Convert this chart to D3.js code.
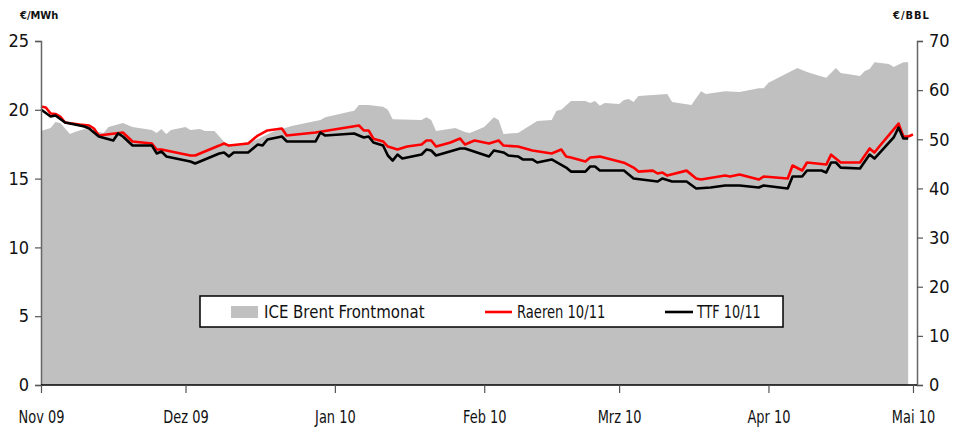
<!DOCTYPE html>
<html>
<head>
<meta charset="utf-8">
<script src="https://cdn.jsdelivr.net/npm/d3@7"></script>
<style>
body { margin: 0; background: #fff; }
text { font-family: "Liberation Sans Narrow", "DejaVu Sans Condensed", sans-serif; fill: #111; }
</style>
</head>
<body>
<svg id="chart" width="953" height="428"></svg>
<script>
// ICE Brent front month, EUR/BBL (right axis)
var brentDates = ['2009-11-01','2009-11-03','2009-11-04','2009-11-05','2009-11-07','2009-11-08','2009-11-10',
    '2009-11-14','2009-11-15','2009-11-18','2009-11-20','2009-11-24','2009-11-25','2009-11-26','2009-11-27',
    '2009-11-28','2009-12-01','2009-12-02','2009-12-04','2009-12-05','2009-12-07','2009-12-09','2009-12-10',
    '2009-12-15','2009-12-19','2009-12-21','2009-12-23','2009-12-29','2009-12-30','2010-01-04','2010-01-05',
    '2010-01-06','2010-01-08','2010-01-11','2010-01-12','2010-01-13','2010-01-19','2010-01-20','2010-01-21',
    '2010-01-22','2010-01-26','2010-01-28','2010-01-29','2010-02-01','2010-02-03','2010-02-04','2010-02-05',
    '2010-02-08','2010-02-10','2010-02-12','2010-02-15','2010-02-16','2010-02-17','2010-02-19','2010-02-22',
    '2010-02-23','2010-02-24','2010-02-25','2010-02-26','2010-03-01','2010-03-02','2010-03-03','2010-03-04',
    '2010-03-05','2010-03-11','2010-03-12','2010-03-16','2010-03-18','2010-03-19','2010-03-23','2010-03-26',
    '2010-03-30','2010-03-31','2010-04-01','2010-04-07','2010-04-09','2010-04-11','2010-04-13','2010-04-15',
    '2010-04-16','2010-04-20','2010-04-21','2010-04-22','2010-04-23','2010-04-26','2010-04-27','2010-04-29',
    '2010-04-30'];
var brentValues = [51.7,52.3,53.5,53.3,51.1,51.5,52.1,
    51.3,52.5,53.3,52.5,51.9,51.3,52.1,51.1,
    51.9,52.5,51.9,52.1,51.7,51.7,49.5,48.8,
    49.6,51.5,52.1,52.7,53.9,54.5,55.6,55.8,
    57.0,57.0,56.6,56.0,54.1,53.9,54.5,53.9,
    51.7,52.3,51.5,51.3,52.5,54.5,53.9,51.1,
    51.3,52.5,53.7,53.9,55.8,56.0,57.8,57.8,
    57.4,57.8,56.8,57.4,57.2,58.0,58.2,57.6,
    58.8,59.2,57.6,57.0,59.8,59.2,59.8,59.6,
    60.4,60.4,61.5,64.5,63.7,63.1,62.5,64.5,
    63.5,62.9,63.9,64.3,65.7,65.3,64.7,65.7,
    65.7];

// Raeren 10/11, EUR/MWh (left axis)
var raerenDates = ['2009-11-01','2009-11-02','2009-11-03','2009-11-04','2009-11-05','2009-11-06','2009-11-09',
    '2009-11-11','2009-11-12','2009-11-13','2009-11-18','2009-11-20','2009-11-24','2009-11-25','2009-11-26',
    '2009-11-27','2009-12-02','2009-12-03','2009-12-07','2009-12-08','2009-12-09','2009-12-10','2009-12-14',
    '2009-12-16','2009-12-18','2009-12-21','2009-12-22','2009-12-28','2010-01-06','2010-01-07','2010-01-08',
    '2010-01-09','2010-01-11','2010-01-12','2010-01-14','2010-01-16','2010-01-19','2010-01-20','2010-01-21',
    '2010-01-22','2010-01-25','2010-01-27','2010-01-28','2010-01-30','2010-02-02','2010-02-04','2010-02-05',
    '2010-02-08','2010-02-11','2010-02-15','2010-02-17','2010-02-18','2010-02-19','2010-02-22','2010-02-23',
    '2010-02-25','2010-03-02','2010-03-04','2010-03-05','2010-03-08','2010-03-09','2010-03-10','2010-03-11',
    '2010-03-15','2010-03-17','2010-03-18','2010-03-23','2010-03-24','2010-03-26','2010-03-30','2010-03-31',
    '2010-04-05','2010-04-06','2010-04-08','2010-04-09','2010-04-13','2010-04-14','2010-04-16','2010-04-20',
    '2010-04-22','2010-04-23','2010-04-24','2010-04-28','2010-04-29','2010-04-30','2010-05-01'];
var raerenValues = [20.24,20.17,19.73,19.70,19.51,19.08,18.93,
    18.86,18.64,18.13,18.35,17.70,17.55,17.11,17.11,
    17.04,16.68,16.68,17.26,17.40,17.55,17.40,17.55,
    18.13,18.50,18.64,18.13,18.35,18.86,18.50,18.50,
    17.90,17.70,17.33,17.11,17.33,17.48,17.77,17.77,
    17.33,17.62,17.91,17.48,17.77,17.55,17.77,17.40,
    17.33,17.04,16.82,17.11,16.60,16.53,16.24,16.53,
    16.60,16.16,15.80,15.51,15.58,15.37,15.44,15.22,
    15.58,15.01,14.93,15.22,15.15,15.30,14.93,15.15,
    15.01,15.95,15.59,16.17,16.02,16.74,16.17,16.17,
    17.19,16.90,17.33,19.00,18.06,18.06,18.20];

// TTF 10/11, EUR/MWh (left axis)
var ttfDates = ['2009-11-01','2009-11-03','2009-11-04','2009-11-06','2009-11-10','2009-11-11','2009-11-13',
    '2009-11-16','2009-11-17','2009-11-18','2009-11-20','2009-11-24','2009-11-25','2009-11-26','2009-11-27',
    '2009-12-02','2009-12-03','2009-12-07','2009-12-08','2009-12-09','2009-12-10','2009-12-11','2009-12-14',
    '2009-12-16','2009-12-17','2009-12-18','2009-12-21','2009-12-22','2009-12-28','2009-12-29','2009-12-30',
    '2010-01-05','2010-01-07','2010-01-08','2010-01-09','2010-01-11','2010-01-12','2010-01-13','2010-01-14',
    '2010-01-15','2010-01-19','2010-01-20','2010-01-21','2010-01-22','2010-01-27','2010-01-28','2010-02-02',
    '2010-02-03','2010-02-05','2010-02-06','2010-02-08','2010-02-09','2010-02-11','2010-02-12','2010-02-15',
    '2010-02-18','2010-02-19','2010-02-22','2010-02-23','2010-02-24','2010-02-25','2010-03-02','2010-03-04',
    '2010-03-09','2010-03-10','2010-03-12','2010-03-15','2010-03-17','2010-03-20','2010-03-23','2010-03-26',
    '2010-03-30','2010-03-31','2010-04-05','2010-04-06','2010-04-08','2010-04-09','2010-04-12','2010-04-13',
    '2010-04-14','2010-04-15','2010-04-16','2010-04-20','2010-04-22','2010-04-23','2010-04-27','2010-04-28',
    '2010-04-29','2010-04-30'];
var ttfValues = [20.02,19.51,19.59,19.08,18.79,18.64,18.06,
    17.77,18.28,18.06,17.41,17.41,16.83,16.97,16.61,
    16.24,16.10,16.68,16.82,16.90,16.61,16.90,16.90,
    17.48,17.41,17.84,18.06,17.70,17.70,18.35,18.13,
    18.28,17.99,18.06,17.62,17.41,16.68,16.31,16.75,
    16.46,16.75,17.11,17.04,16.68,17.19,17.19,16.61,
    17.04,16.90,16.68,16.61,16.39,16.39,16.17,16.39,
    15.80,15.51,15.51,15.88,15.88,15.59,15.59,15.01,
    14.79,15.01,14.79,14.79,14.28,14.35,14.50,14.50,
    14.35,14.50,14.28,15.15,15.15,15.59,15.59,15.44,
    16.17,16.17,15.80,15.73,16.75,16.46,17.99,18.71,
    17.91,17.91];

var monthTicks = ['2009-11-01','2009-12-01','2010-01-01','2010-02-01','2010-03-01','2010-04-01','2010-05-01'];
var monthLabels = ['Nov 09','Dez 09','Jan 10','Feb 10','Mrz 10','Apr 10','Mai 10'];
var leftTicks = [0, 5, 10, 15, 20, 25];
var rightTicks = [0, 10, 20, 30, 40, 50, 60, 70];
var legendLabels = ['ICE Brent Frontmonat', 'Raeren 10/11', 'TTF 10/11'];

var parse = d3.timeParse('%Y-%m-%d');

function zip(dates, values) {
    return dates.map(function(d, i) { return {date: parse(d), value: values[i]}; });
}

var brent = zip(brentDates, brentValues),
    raeren = zip(raerenDates, raerenValues),
    ttf = zip(ttfDates, ttfValues);

var svg = d3.select('#chart');

var box = {left: 41, right: 917, top: 41, bottom: 385};

// squeeze a text horizontally, the source font is a narrow DIN-like face
function narrow(sel, k) {
    sel.each(function() {
        var w = this.getComputedTextLength();
        d3.select(this).attr('textLength', w * k).attr('lengthAdjust', 'spacingAndGlyphs');
    });
}

// x range ends at the right axis, a little after 1 May
var x = d3.scaleTime().
    domain([parse('2009-11-01'), new Date(2010, 4, 1, 20)]).
    range([box.left, box.right]);
var yL = d3.scaleLinear().domain([0, 25]).range([box.bottom, box.top]);
var yR = d3.scaleLinear().domain([0, 70]).range([box.bottom, box.top]);

// Brent area on the right scale
var area = d3.area().
    x(function(d) { return x(d.date); }).
    y0(yR(0)).
    y1(function(d) { return yR(d.value); });

svg.append('path').datum(brent).
    attr('d', area).
    attr('fill', '#c0c0c0');

var line = d3.line().
    x(function(d) { return x(d.date); }).
    y(function(d) { return yL(d.value); });

svg.append('path').datum(raeren).
    attr('d', line).
    attr('fill', 'none').attr('stroke', '#ff0000').
    attr('stroke-width', 2.6).attr('stroke-linejoin', 'round');

svg.append('path').datum(ttf).
    attr('d', line).
    attr('fill', 'none').attr('stroke', '#000').
    attr('stroke-width', 2.6).attr('stroke-linejoin', 'round');

// Axes
var axisL = d3.axisLeft(yL).tickValues(leftTicks).tickSize(6).tickPadding(6);
var axisR = d3.axisRight(yR).tickValues(rightTicks).tickSize(6).tickPadding(6);
var axisX = d3.axisBottom(x).
    tickValues(monthTicks.map(parse)).
    tickFormat(function(d, i) { return monthLabels[i]; }).
    tickSize(8).tickPadding(17);

function styleAxis(g) {
    g.select('.domain').attr('stroke', '#666').attr('stroke-width', 1.5);
    g.selectAll('.tick line').attr('stroke', '#555').attr('stroke-width', 1.2);
    g.selectAll('.tick text').
        style('font-family', '"Liberation Sans Narrow", "DejaVu Sans Condensed", sans-serif').
        style('font-size', '18px').attr('fill', '#111');
}

svg.append('g').attr('transform', 'translate(' + box.left + ',0)').call(axisL).call(styleAxis);
svg.append('g').attr('transform', 'translate(' + box.right + ',0)').call(axisR).call(styleAxis);
var gx = svg.append('g').attr('transform', 'translate(0,' + box.bottom + ')').call(axisX).call(styleAxis);
gx.select('.domain').attr('stroke', '#000').attr('stroke-width', 1.6).
    attr('d', 'M' + box.left + ',0H' + box.right);
gx.selectAll('.tick text').call(narrow, 0.8);

// Unit labels
svg.append('text').attr('x', 20).attr('y', 19).
    style('font-family', '"DejaVu Sans Condensed", sans-serif').
    style('font-size', '11px').style('font-weight', 'bold').
    text('€/MWh');
svg.append('text').attr('x', 893).attr('y', 19).
    style('font-family', '"DejaVu Sans Condensed", sans-serif').
    style('font-size', '11px').style('font-weight', 'bold').style('letter-spacing', '1px').
    text('€/BBL');

// Legend
var lg = svg.append('g').attr('class', 'legend');
lg.append('rect').attr('x', 200).attr('y', 296).attr('width', 583).attr('height', 31).
    attr('fill', '#fff').attr('stroke', '#000').attr('stroke-width', 1.5);

lg.append('rect').attr('x', 231).attr('y', 306).attr('width', 27).attr('height', 12).attr('fill', '#c0c0c0');
lg.append('line').attr('x1', 485).attr('x2', 512).attr('y1', 312).attr('y2', 312).
    attr('stroke', '#ff0000').attr('stroke-width', 2.6);
lg.append('line').attr('x1', 665).attr('x2', 693).attr('y1', 312).attr('y2', 312).
    attr('stroke', '#000').attr('stroke-width', 2.6);

var legendX = [264, 517, 697];
var legendSqueeze = [0.925, 0.81, 0.79];
legendLabels.forEach(function(t, i) {
    lg.append('text').attr('x', legendX[i]).attr('y', 318).
        style('font-size', '18px').text(t).
        call(narrow, legendSqueeze[i]);
});
</script>
</body>
</html>
